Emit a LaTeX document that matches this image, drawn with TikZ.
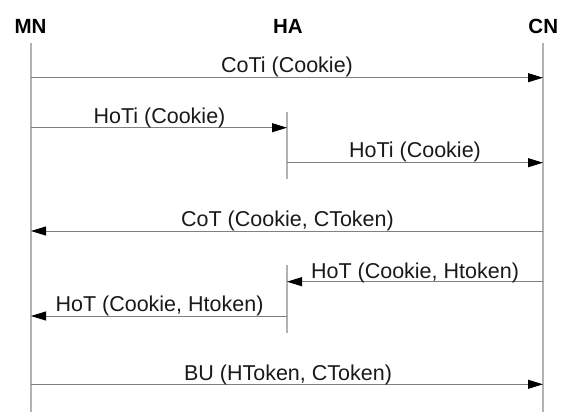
\documentclass[tikz,border=0pt]{standalone}
\usepackage{fontspec}
\setmainfont{Liberation Sans}
\usetikzlibrary{arrows.meta}
\begin{document}
\begin{tikzpicture}[x=1pt,y=-1pt,
  life/.style={draw=black!30, line width=1.3pt},
  msg/.style={draw=black!50, line width=1pt, -{Triangle[length=15pt,width=9pt,black]}},
  head/.style={font=\fontsize{20.5}{24}\selectfont\bfseries, anchor=base, inner sep=0pt, text=black},
  lbl/.style={font=\fontsize{21.5}{25}\selectfont, anchor=base, inner sep=0pt, text=black!90}]
\useasboundingbox (0,0) rectangle (563,412);
% headers
\node[head] (MN) at (30.5,33.3) {MN};
\node[head] (HA) at (288,33.3) {HA};
\node[head] (CN) at (543.3,33.3) {CN};
% lifelines
\coordinate (mnT) at (31,43);  \coordinate (mnB) at (31,412);
\coordinate (cnT) at (543,43); \coordinate (cnB) at (543,412);
\coordinate (haT1) at (287,112); \coordinate (haB1) at (287,179);
\coordinate (haT2) at (287,265); \coordinate (haB2) at (287,333);
\draw[life] (mnT) -- (mnB);
\draw[life] (cnT) -- (cnB);
\draw[life] (haT1) -- (haB1);
\draw[life] (haT2) -- (haB2);
% message end points
\coordinate (m1a) at (31,77.7);   \coordinate (m1b) at (543,77.7);
\coordinate (m2a) at (31,127.7);  \coordinate (m2b) at (287,127.7);
\coordinate (m3a) at (287,162.7); \coordinate (m3b) at (543,162.7);
\coordinate (m4a) at (543,231);   \coordinate (m4b) at (31,231);
\coordinate (m5a) at (543,281.7); \coordinate (m5b) at (287,281.7);
\coordinate (m6a) at (287,316);   \coordinate (m6b) at (31,316);
\coordinate (m7a) at (31,384.3);  \coordinate (m7b) at (543,384.3);
\draw[msg] (m1a) -- (m1b);
\draw[msg] (m2a) -- (m2b);
\draw[msg] (m3a) -- (m3b);
\draw[msg] (m4a) -- (m4b);
\draw[msg] (m5a) -- (m5b);
\draw[msg] (m6a) -- (m6b);
\draw[msg] (m7a) -- (m7b);
% labels
\node[lbl] (l1) at (287,72.7) {CoTi (Cookie)};
\node[lbl] (l2) at (159.5,123.3) {HoTi (Cookie)};
\node[lbl] (l3) at (415,157.3) {HoTi (Cookie)};
\node[lbl] (l4) at (287.5,226) {CoT (Cookie, CToken)};
\node[lbl] (l5) at (415,278) {HoT (Cookie, Htoken)};
\node[lbl] (l6) at (159.5,311) {HoT (Cookie, Htoken)};
\node[lbl] (l7) at (288,380) {BU (HToken, CToken)};
\end{tikzpicture}
\end{document}
